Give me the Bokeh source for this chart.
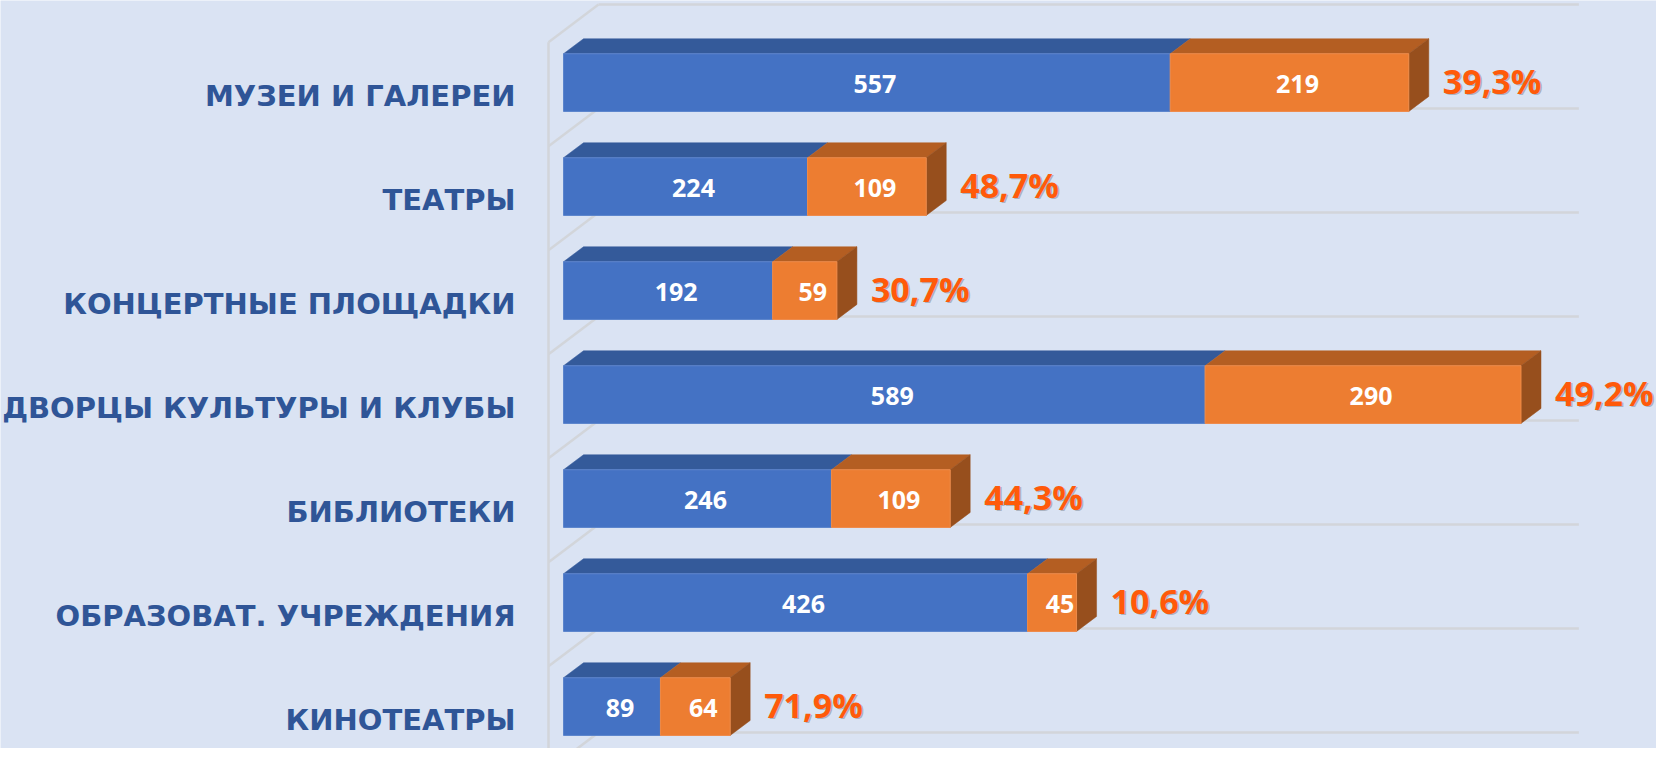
from bokeh.plotting import figure
from bokeh.models import Range1d, ColumnDataSource
from bokeh.core.properties import value
from bokeh.embed import file_html
from bokeh.resources import INLINE

# ---------------- data ----------------
categories = ["МУЗЕИ И ГАЛЕРЕИ", "ТЕАТРЫ", "КОНЦЕРТНЫЕ ПЛОЩАДКИ",
              "ДВОРЦЫ КУЛЬТУРЫ И КЛУБЫ", "БИБЛИОТЕКИ",
              "ОБРАЗОВАТ. УЧРЕЖДЕНИЯ", "КИНОТЕАТРЫ"]
blue_values = [557, 224, 192, 589, 246, 426, 89]
orange_values = [219, 109, 59, 290, 109, 45, 64]
share_labels = ["39,3%", "48,7%", "30,7%", "49,2%", "44,3%", "10,6%", "71,9%"]
axis_max = 900

# ---------------- geometry ----------------
W, H = 1656, 748
PXU = 1.0893          # pixels per value unit
X0 = 563              # pixel position of value 0
ROW = 104.0           # pixels per category row
Y0 = 82.1             # pixel position of first row centre


def ux(px):
    return px / PXU


def uy(px):
    return px / ROW


p = figure(width=W, height=H, output_backend="svg", toolbar_location=None,
           x_range=Range1d(-X0 / PXU, (W - X0) / PXU),
           y_range=Range1d((H - Y0) / ROW, -Y0 / ROW),
           min_border=0)
p.axis.visible = False
p.grid.visible = False
p.outline_line_color = None
p.background_fill_color = "#DAE3F3"
p.border_fill_color = "#DAE3F3"

n = len(categories)
rows = list(range(n))

# ---------------- 3D wall / grid ----------------
grid_col = "#D2D5DA"
back_off_x = ux(35)
front_off_x = ux(-15)
back_rows = list(range(-1, n + 1))
back_y = [r + uy(25.9) for r in back_rows]
front_y = [b + uy(37.7) for b in back_y]
p.multi_line(xs=[[back_off_x, axis_max + back_off_x] for _ in back_y],
             ys=[[b, b] for b in back_y], line_color=grid_col, line_width=2.5)
p.multi_line(xs=[[front_off_x, back_off_x] for _ in back_y],
             ys=[[f, b] for f, b in zip(front_y, back_y)],
             line_color=grid_col, line_width=2.5)
p.line(x=[front_off_x, front_off_x], y=[front_y[0], (H - Y0) / ROW + 1],
       line_color=grid_col, line_width=2.5)

# ---------------- bars ----------------
hh = uy(28.85)
DX = ux(20)
DY = uy(15)

blue_left = [0] * n
blue_right = blue_values
or_left = blue_values
or_right = [b + o for b, o in zip(blue_values, orange_values)]
tops = [r - hh for r in rows]
bots = [r + hh for r in rows]


def top_faces(l, r):
    xs = [[a, b, b + DX, a + DX] for a, b in zip(l, r)]
    ys = [[t, t, t - DY, t - DY] for t in tops]
    return xs, ys


bx, by = top_faces(blue_left, blue_right)
p.patches(xs=bx, ys=by, fill_color="#345A9A", line_color="#345A9A", line_width=0.5)
ox, oy = top_faces(or_left, or_right)
p.patches(xs=ox, ys=oy, fill_color="#B45E22", line_color="#B45E22", line_width=0.5)
sx = [[r, r + DX, r + DX, r] for r in or_right]
sy = [[t, t - DY, b - DY, b] for t, b in zip(tops, bots)]
p.patches(xs=sx, ys=sy, fill_color="#974F1D", line_color="#974F1D", line_width=0.5)

p.quad(left=blue_left, right=blue_right, top=tops, bottom=bots,
       fill_color="#4472C4", line_color="#5B84CC", line_width=1)
p.quad(left=or_left, right=or_right, top=tops, bottom=bots,
       fill_color="#ED7D31", line_color="#EE8A48", line_width=1)

# ---------------- texts ----------------
cat_src = ColumnDataSource(dict(x=[ux(515 - X0)] * n,
                                y=[r + uy(13.5) for r in rows],
                                t=categories))
p.text(x="x", y="y", text="t", source=cat_src, text_align="right",
       text_baseline="alphabetic", text_color="#2F5597",
       text_font=value("DejaVu Sans"), text_font_style="bold",
       text_font_size="29px")

val_x = [b / 2 for b in blue_values] + [b + o / 2 for b, o in zip(blue_values, orange_values)]
val_y = [r + uy(1) for r in rows] * 2
val_t = [str(v) for v in blue_values] + [str(v) for v in orange_values]
p.text(x=val_x, y=val_y, text=val_t, x_offset=8, text_align="center",
       text_baseline="alphabetic", text_color="white",
       text_font=value("Open Sans"), text_font_style="bold",
       text_font_size="25px")

pct_x = [t + DX + ux(14) for t in or_right]
pct_y = [r - uy(2) for r in rows]
p.text(x=pct_x, y=pct_y, text=share_labels, x_offset=1.5, y_offset=1.5,
       text_align="left", text_baseline="alphabetic", text_color="#6F7680",
       text_alpha=0.45, text_font=value("Open Sans"), text_font_style="bold",
       text_font_size="34px")
p.text(x=pct_x, y=pct_y, text=share_labels, text_align="left",
       text_baseline="alphabetic", text_color="#FF5A0A",
       text_font=value("Open Sans"), text_font_style="bold",
       text_font_size="34px")

open("out.html", "w").write(file_html(p, INLINE))
